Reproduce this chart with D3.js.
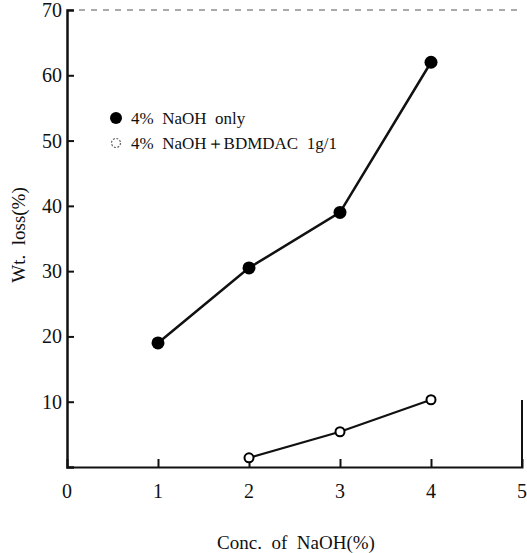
<!DOCTYPE html>
<html><head><meta charset="utf-8">
<script src="https://cdn.jsdelivr.net/npm/d3@7"></script>
<style>body{margin:0;background:#fff}svg{display:block}</style>
</head><body>
<script>
const xTicks = [0, 1, 2, 3, 4, 5];
const yTicks = [10, 20, 30, 40, 50, 60, 70];
const seriesNames = ["4%  NaOH  only", "4%  NaOH\uFF0BBDMDAC  1g/1"];
const xOnly = [1, 2, 3, 4];
const yOnly = [19, 30.5, 39, 62];
const xBdm = [2, 3, 4];
const yBdm = [1.4, 5.4, 10.3];

const W = 527, H = 553;
const FONT = "'Liberation Serif', 'Times New Roman', serif";
const svg = d3.select("body").append("svg").attr("width", W).attr("height", H);
const x = d3.scaleLinear().domain([0, 5]).range([67, 522]);
const y = d3.scaleLinear().domain([0, 70]).range([467, 10]);

// frame
svg.append("line").attr("x1", 67).attr("x2", 522).attr("y1", y(70)).attr("y2", y(70))
  .attr("stroke", "#555").attr("stroke-width", 1).attr("stroke-dasharray", "6,6");
svg.append("line").attr("x1", 522).attr("x2", 522).attr("y1", 400).attr("y2", 467)
  .attr("stroke", "#111").attr("stroke-width", 2);

// y axis
const yAxis = d3.axisRight(y).tickValues(yTicks.filter(v => v < 70)).tickSize(7).tickFormat("");
const gy = svg.append("g").attr("transform", `translate(${x(0)},0)`).call(yAxis);
gy.select(".domain").attr("stroke", "#111").attr("stroke-width", 2.5);
gy.selectAll(".tick line").attr("stroke", "#111").attr("stroke-width", 2);
svg.append("g").selectAll("text").data(yTicks).join("text")
  .attr("x", 62).attr("y", d => y(d) + 7).attr("text-anchor", "end")
  .style("font-family", FONT).style("font-size", "20px").attr("fill", "#111").text(d => d);

// x axis
const xAxis = d3.axisTop(x).tickValues(xTicks.filter(v => v > 0 && v < 5)).tickSize(8).tickFormat("");
const gx = svg.append("g").attr("transform", `translate(0,${y(0)})`).call(xAxis);
gx.select(".domain").attr("stroke", "#111").attr("stroke-width", 2);
gx.selectAll(".tick line").attr("stroke", "#111").attr("stroke-width", 2);
svg.append("g").selectAll("text").data(xTicks).join("text")
  .attr("x", d => x(d)).attr("y", 498).attr("text-anchor", "middle")
  .style("font-family", FONT).style("font-size", "20px").attr("fill", "#111").text(d => d);

// titles
svg.append("text").attr("x", 296).attr("y", 549).attr("text-anchor", "middle")
  .style("font-family", FONT).style("font-size", "19px").attr("fill", "#111")
  .style("white-space", "pre").text("Conc.  of  NaOH(%)");
svg.append("text").attr("transform", `translate(25,235) rotate(-90)`).attr("text-anchor", "middle")
  .style("font-family", FONT).style("font-size", "19px").attr("fill", "#111")
  .style("white-space", "pre").text("Wt.  loss(%)");

const line = d3.line().x(d => x(d[0])).y(d => y(d[1]));
const d1 = xOnly.map((v, i) => [v, yOnly[i]]);
const d2 = xBdm.map((v, i) => [v, yBdm[i]]);
svg.append("path").datum(d1).attr("d", line).attr("fill", "none").attr("stroke", "#111").attr("stroke-width", 2.5);
svg.append("path").datum(d2).attr("d", line).attr("fill", "none").attr("stroke", "#111").attr("stroke-width", 2.2);
svg.append("g").selectAll("circle").data(d1).join("circle")
  .attr("cx", d => x(d[0])).attr("cy", d => y(d[1])).attr("r", 6.5).attr("fill", "#000");
svg.append("g").selectAll("circle").data(d2).join("circle")
  .attr("cx", d => x(d[0])).attr("cy", d => y(d[1])).attr("r", 4.5).attr("fill", "#fff")
  .attr("stroke", "#000").attr("stroke-width", 2);

// legend
const lg = svg.append("g");
lg.append("circle").attr("cx", 116).attr("cy", 118).attr("r", 6).attr("fill", "#000");
lg.append("circle").attr("cx", 116).attr("cy", 143).attr("r", 4.5).attr("fill", "#fff")
  .attr("stroke", "#666").attr("stroke-width", 1.2).attr("stroke-dasharray", "2,1.5");
lg.selectAll("text").data(seriesNames).join("text")
  .attr("x", 131).attr("y", (d, i) => 124 + i * 25)
  .style("font-family", FONT).style("font-size", "17px").attr("fill", "#111")
  .style("white-space", "pre").text(d => d);
</script>
</body></html>
